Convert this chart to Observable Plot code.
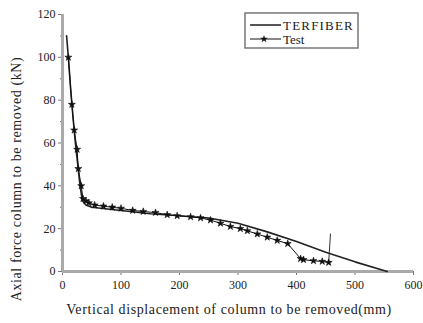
<!DOCTYPE html>
<html><head><meta charset="utf-8">
<script src="https://cdn.jsdelivr.net/npm/d3@7"></script>
<script src="https://cdn.jsdelivr.net/npm/@observablehq/plot@0.6"></script>
<style>body{margin:0;background:#fff} svg{display:block} svg text{font-family:"Liberation Serif",serif !important}</style>
</head><body><div id="chart"></div><script>
const terfiberX = [7,10,14,18,22,26,30,34,40,50,100,150,200,250,300,350,400,450,500,555];
const terfiberY = [110,100,85,72,60,50,40,33,31,30,28.5,27,26,25,22.5,18.5,14,9,4.5,0];
const testX = [10,16,20,25,27,32,35,40,45,55,70,85,100,120,138,159,179,196,219,236,253,270,287,304,316,333,350,367,385,407,412,429,444,455];
const testY = [100,78,66,57,48,40,34,33,32,31,30.5,30,29.5,28.5,28,27.5,26.5,26,25.5,25,24,22.5,21,20,19,17.5,16,14.5,13,6,5.5,5,4.7,4.2];
const tailX = [455,458];
const tailY = [4.2,17.5];
const xTicks = [0,100,200,300,400,500,600];
const xMinor = [50,150,250,350,450,550];
const yTicks = [0,20,40,60,80,100,120];
const yMinor = [10,30,50,70,90,110];
const seriesNames = ["TERFIBER","Test"];
const xLabel = "Vertical displacement of column to be removed(mm)";
const yLabel = "Axial force column to be removed (kN)";

const terfiber = terfiberX.map((x,i)=>({x, y: terfiberY[i]}));
const test = testX.map((x,i)=>({x, y: testY[i]}));
const tail = tailX.map((x,i)=>({x, y: tailY[i]}));
const F = "Liberation Serif";

const chart = Plot.plot({
  width: 423, height: 323,
  marginLeft: 62, marginRight: 10, marginTop: 14, marginBottom: 52,
  x: {domain: [0, 600]},
  y: {domain: [0, 120]},
  style: {fontFamily: F, fontSize: "12px", color: "#222", background: "#fff"},
  marks: [
    Plot.axisX({ticks: xTicks, tickSize: 4, tickPadding: 5, label: null, stroke: "#777", fontFamily: F, fontSize: 12}),
    Plot.axisX({ticks: xMinor, tickSize: 2, tickFormat: () => "", label: null, stroke: "#777"}),
    Plot.axisY({ticks: yTicks, tickSize: 4, tickPadding: 3, label: null, stroke: "#777", fontFamily: F, fontSize: 12}),
    Plot.axisY({ticks: yMinor, tickSize: 2, tickFormat: () => "", label: null, stroke: "#777"}),
    Plot.ruleX([0], {stroke: "#aaa", strokeWidth: 3}),
    Plot.ruleY([0], {stroke: "#aaa", strokeWidth: 3}),
    Plot.line(terfiber, {x: "x", y: "y", stroke: "#222", strokeWidth: 1.6}),
    Plot.line(test, {x: "x", y: "y", stroke: "#111", strokeWidth: 1}),
    Plot.line(tail, {x: "x", y: "y", stroke: "#333", strokeWidth: 1}),
    Plot.dot(test, {x: "x", y: "y", symbol: "star", r: 2.2, fill: "#111", stroke: "#111", strokeWidth: 0.6})
  ]
});
document.getElementById("chart").appendChild(chart);

const svg = d3.select(chart);
svg.append("text").attr("x", 229).attr("y", 314).attr("text-anchor", "middle")
  .attr("font-family", F).attr("font-size", 14).attr("letter-spacing", 0.6).attr("fill", "#222").text(xLabel);
svg.append("text").attr("transform", "translate(21,179) rotate(-90)").attr("text-anchor", "middle")
  .attr("font-family", F).attr("font-size", 14).attr("letter-spacing", 0.6).attr("fill", "#222").text(yLabel);

const lg = svg.append("g").attr("text-anchor", "start");
lg.append("rect").attr("x", 245).attr("y", 13).attr("width", 113).attr("height", 35)
  .attr("fill", "#fff").attr("stroke", "#777").attr("stroke-width", 1.5);
lg.append("line").attr("x1", 250).attr("x2", 281).attr("y1", 25).attr("y2", 25)
  .attr("stroke", "#555").attr("stroke-width", 2);
lg.append("line").attr("x1", 250).attr("x2", 281).attr("y1", 39).attr("y2", 39)
  .attr("stroke", "#111").attr("stroke-width", 1);
lg.append("path").attr("d", d3.symbol(d3.symbolStar, 18)()).attr("transform", "translate(264,39)").attr("fill", "#111");
lg.append("text").attr("x", 283).attr("y", 30).attr("text-anchor", "start").attr("font-family", F).attr("font-size", 13).attr("letter-spacing", 1.2).attr("fill", "#222").text(seriesNames[0]);
lg.append("text").attr("x", 283).attr("y", 44).attr("text-anchor", "start").attr("font-family", F).attr("font-size", 13).attr("fill", "#222").text(seriesNames[1]);
</script></body></html>
